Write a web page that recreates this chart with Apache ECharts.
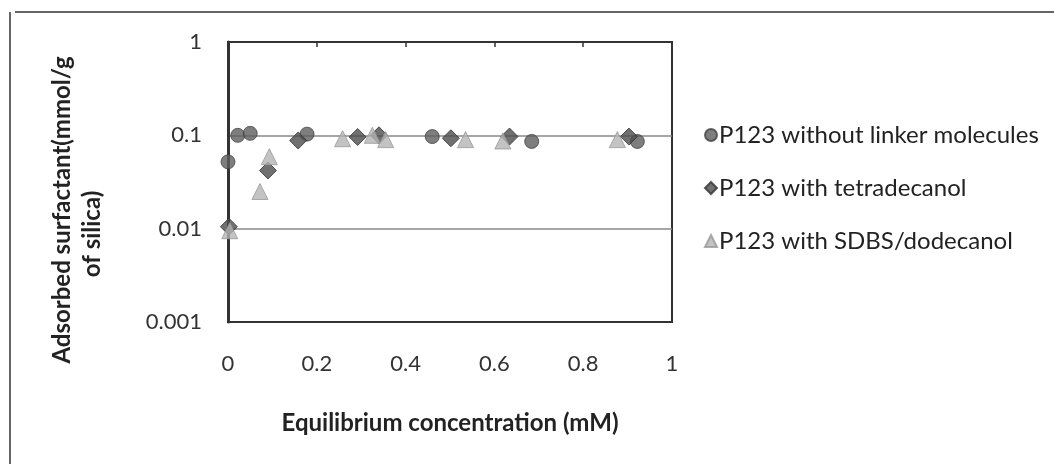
<!DOCTYPE html>
<html>
<head>
<meta charset="utf-8">
<script src="https://cdn.jsdelivr.net/npm/echarts@6/dist/echarts.min.js"></script>
<style>
  html, body { margin: 0; padding: 0; background: #fff; }
  #chart { width: 1054px; height: 464px; }
</style>
</head>
<body>
<div id="chart"></div>
<script>
// Adsorption of P123 onto silica: equilibrium concentration (mM) vs adsorbed amount (mmol/g)
const seriesNames = [
  'P123 without linker molecules',
  'P123 with tetradecanol',
  'P123 with SDBS/dodecanol'
];
const noLinker = [
  [0.000, 0.052], [0.022, 0.100], [0.050, 0.105], [0.178, 0.103],
  [0.460, 0.097], [0.684, 0.086], [0.922, 0.086]
];
const tetradecanol = [
  [0.002, 0.0105], [0.090, 0.042], [0.158, 0.088], [0.292, 0.096],
  [0.340, 0.100], [0.502, 0.093], [0.634, 0.097], [0.903, 0.097]
];
const sdbsDodecanol = [
  [0.004, 0.0095], [0.072, 0.025], [0.093, 0.059], [0.258, 0.092],
  [0.325, 0.100], [0.355, 0.090], [0.535, 0.090], [0.619, 0.087], [0.877, 0.090]
];
const xTicks = [0, 0.2, 0.4, 0.6, 0.8, 1];
const yTicks = [0.001, 0.01, 0.1, 1];
const xTitle = 'Equilibrium concentration (mM)';
const yTitleLines = ['Adsorbed surfactant(mmol/g', 'of silica)'];

const font = 'Lato, "Open Sans", sans-serif';
const chart = echarts.init(document.getElementById('chart'));

chart.setOption({
  backgroundColor: '#ffffff',
  animation: false,
  grid: { left: 228, top: 42, width: 444, height: 280, show: true, borderColor: '#333', borderWidth: 2 },
  xAxis: [{
    type: 'value', min: 0, max: 1, interval: 0.2, position: 'bottom',
    name: xTitle, nameLocation: 'middle', nameGap: 89,
    nameTextStyle: { fontFamily: font, fontSize: 24, fontWeight: 'bold', color: '#222' },
    axisLine: { show: true, lineStyle: { color: '#333', width: 2 } },
    axisTick: { show: false },
    axisLabel: { fontFamily: font, fontSize: 22, color: '#333', margin: 31,
      formatter: v => xTicks.includes(+v.toFixed(1)) ? String(+v.toFixed(1)) : '' },
    splitLine: { show: false }
  }, {
    type: 'value', min: 0, max: 1, interval: 0.2, position: 'top',
    axisLine: { show: true, lineStyle: { color: '#333', width: 2 } },
    axisTick: { show: true, inside: true, length: 5, lineStyle: { color: '#333', width: 1.5 } },
    axisLabel: { show: false },
    splitLine: { show: false }
  }],
  yAxis: {
    type: 'log', min: yTicks[0], max: yTicks[yTicks.length - 1], logBase: 10,
    axisLine: { show: true, lineStyle: { color: '#333', width: 3 } },
    axisTick: { show: false },
    axisLabel: { fontFamily: font, fontSize: 22, color: '#333', margin: 26,
      formatter: v => String(+v.toPrecision(1)) },
    splitLine: { show: true, lineStyle: { color: '#888', width: 1.5 } }
  },
  legend: {
    orient: 'vertical', left: 699, top: 117, itemGap: 27,
    itemWidth: 12, itemHeight: 12,
    textStyle: { fontFamily: font, fontSize: 24, color: '#222', lineHeight: 26, padding: [0, 0, 0, -3] },
    data: seriesNames
  },
  series: [
    {
      name: seriesNames[0], type: 'scatter', data: noLinker,
      symbol: 'circle', symbolSize: 14,
      itemStyle: { color: '#5e5e5e', borderColor: '#444', borderWidth: 1 }
    },
    {
      name: seriesNames[1], type: 'scatter', data: tetradecanol,
      symbol: 'diamond', symbolSize: 17,
      itemStyle: { color: '#4c4c4c', borderColor: '#333', borderWidth: 1 }
    },
    {
      name: seriesNames[2], type: 'scatter', data: sdbsDodecanol,
      symbol: 'triangle', symbolSize: 16,
      itemStyle: { color: '#b4b4b4', borderColor: '#999', borderWidth: 1 }
    }
  ],
  graphic: [
    { type: 'line', shape: { x1: 15, y1: 12, x2: 1054, y2: 12 }, style: { stroke: '#333', lineWidth: 1.5 } },
    { type: 'line', shape: { x1: 10, y1: 12, x2: 10, y2: 464 }, style: { stroke: '#333', lineWidth: 1.5 } },
    { type: 'text', x: 62, y: 210, rotation: Math.PI / 2,
      style: { text: yTitleLines[0], fontFamily: font, fontSize: 24, fontWeight: 'bold', fill: '#222',
        align: 'center', verticalAlign: 'middle' } },
    { type: 'text', x: 92, y: 234, rotation: Math.PI / 2,
      style: { text: yTitleLines[1], fontFamily: font, fontSize: 24, fontWeight: 'bold', fill: '#222',
        align: 'center', verticalAlign: 'middle' } }
  ]
});
</script>
</body>
</html>
